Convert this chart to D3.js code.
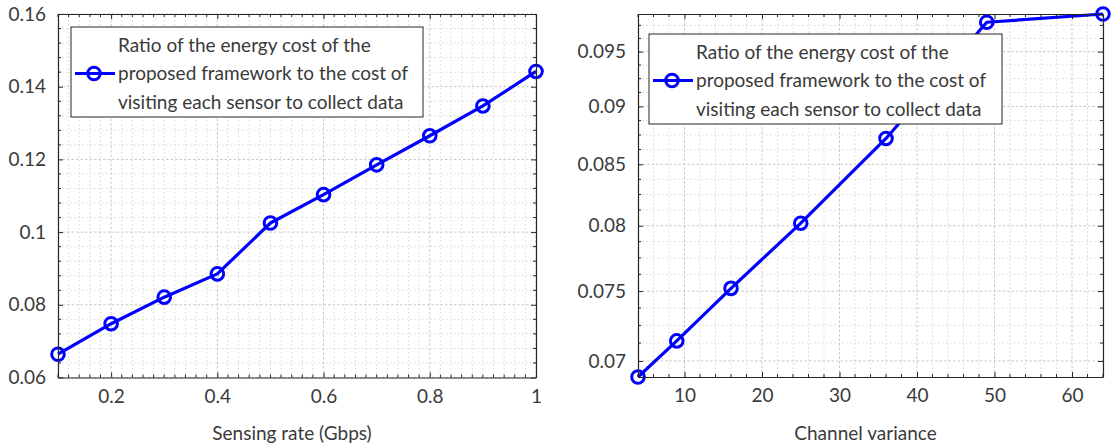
<!DOCTYPE html>
<html>
<head>
<meta charset="utf-8">
<script src="https://cdn.jsdelivr.net/npm/d3@7"></script>
<style>
  html, body { margin: 0; padding: 0; background: #fff; }
  svg { display: block; }
  text { font-family: "Lato", "Open Sans", sans-serif; fill: #3a3a3a; }
</style>
</head>
<body>
<svg id="fig" width="1113" height="447"></svg>
<script>
// Left panel: ratio vs. sensing rate
const rateGbps = [0.1, 0.2, 0.3, 0.4, 0.5, 0.6, 0.7, 0.8, 0.9, 1.0];
const ratioByRate = [0.0664, 0.0748, 0.0821, 0.0885, 0.1025, 0.1103, 0.1185, 0.1265, 0.1347, 0.1442];
const rateTicks = [0.2, 0.4, 0.6, 0.8, 1];
const ratioTicksLeft = [0.06, 0.08, 0.1, 0.12, 0.14, 0.16];

// Right panel: ratio vs. channel variance (log-scaled ratio axis)
const channelVariance = [4, 9, 16, 25, 36, 49, 64];
const ratioByVariance = [0.0689, 0.0714, 0.0752, 0.0802, 0.0872, 0.0978, 0.0986];
const varianceTicks = [10, 20, 30, 40, 50, 60];
const ratioTicksRight = [0.07, 0.075, 0.08, 0.085, 0.09, 0.095];

const legendLines = [
  "Ratio of the energy cost of the",
  "proposed framework to the cost of",
  "visiting each sensor to collect data"
];

const svg = d3.select("#fig");
const BLUE = "#0000ff";
const AXIS = "#262626";
const FONT = 19;

function panel(cfg) {
  const g = svg.append("g");
  const { x, y, xMinor, yMinor } = cfg;
  const [x0, x1] = x.range();
  const [y0, y1] = y.range(); // y0 bottom, y1 top

  // minor grid (dotted)
  g.append("g").selectAll("line.mx").data(xMinor).join("line")
    .attr("x1", d => x(d)).attr("x2", d => x(d)).attr("y1", y0).attr("y2", y1)
    .attr("stroke", "#d9d9d9").attr("stroke-width", 1).attr("stroke-dasharray", "1.5,2.5");
  g.append("g").selectAll("line.my").data(yMinor).join("line")
    .attr("x1", x0).attr("x2", x1).attr("y1", d => y(d)).attr("y2", d => y(d))
    .attr("stroke", "#d9d9d9").attr("stroke-width", 1).attr("stroke-dasharray", "1.5,2.5");
  // major grid
  g.append("g").selectAll("line").data(cfg.xTicks).join("line")
    .attr("x1", d => x(d)).attr("x2", d => x(d)).attr("y1", y0).attr("y2", y1)
    .attr("stroke", "#c8c8c8").attr("stroke-width", 1).attr("stroke-dasharray", "2.5,2");
  g.append("g").selectAll("line").data(cfg.yTicks).join("line")
    .attr("x1", x0).attr("x2", x1).attr("y1", d => y(d)).attr("y2", d => y(d))
    .attr("stroke", "#c8c8c8").attr("stroke-width", 1).attr("stroke-dasharray", "2.5,2");

  // data line and markers
  const pts = cfg.xs.map((v, i) => [v, cfg.ys[i]]);
  g.append("path").datum(pts)
    .attr("d", d3.line().x(d => x(d[0])).y(d => y(d[1])))
    .attr("fill", "none").attr("stroke", BLUE).attr("stroke-width", 3.2)
    .attr("stroke-linejoin", "round");
  g.append("g").selectAll("circle").data(pts).join("circle")
    .attr("cx", d => x(d[0])).attr("cy", d => y(d[1])).attr("r", 6.3)
    .attr("fill", "none").attr("stroke", BLUE).attr("stroke-width", 3);

  // axes on all four sides, ticks pointing inward
  const fmt = cfg.fmt;
  const bottom = d3.axisBottom(x).tickValues(cfg.xTicks).tickSizeInner(-5).tickSizeOuter(0)
    .tickPadding(12).tickFormat(fmt);
  const top = d3.axisTop(x).tickValues(cfg.xTicks).tickSizeInner(-5).tickSizeOuter(0).tickFormat("");
  const left = d3.axisLeft(y).tickValues(cfg.yTicks).tickSizeInner(-5).tickSizeOuter(0)
    .tickPadding(12).tickFormat(fmt);
  const right = d3.axisRight(y).tickValues(cfg.yTicks).tickSizeInner(-5).tickSizeOuter(0).tickFormat("");
  const style = sel => {
    sel.select(".domain").attr("stroke", AXIS).attr("stroke-width", 1.2);
    sel.selectAll(".tick line").attr("stroke", AXIS).attr("stroke-width", 1);
    sel.selectAll(".tick text").attr("fill", "#3a3a3a").style("font-size", FONT + "px")
      .style("font-family", "Lato, 'Open Sans', sans-serif");
  };
  g.append("g").attr("transform", `translate(0,${y0})`).call(bottom).call(style);
  g.append("g").attr("transform", `translate(0,${y1})`).call(top).call(style);
  g.append("g").attr("transform", `translate(${x0},0)`).call(left).call(style);
  g.append("g").attr("transform", `translate(${x1},0)`).call(right).call(style);

  // minor ticks
  const mt = g.append("g").attr("stroke", AXIS).attr("stroke-width", 1);
  xMinor.forEach(v => {
    mt.append("line").attr("x1", x(v)).attr("x2", x(v)).attr("y1", y0).attr("y2", y0 - 3);
    mt.append("line").attr("x1", x(v)).attr("x2", x(v)).attr("y1", y1).attr("y2", y1 + 3);
  });
  yMinor.forEach(v => {
    mt.append("line").attr("x1", x0).attr("x2", x0 + 3).attr("y1", y(v)).attr("y2", y(v));
    mt.append("line").attr("x1", x1).attr("x2", x1 - 3).attr("y1", y(v)).attr("y2", y(v));
  });

  // x-axis title
  g.append("text").attr("x", (x0 + x1) / 2 - 5).attr("y", 440)
    .attr("text-anchor", "middle").style("font-size", FONT + "px").text(cfg.xTitle);

  // legend
  const L = cfg.legend;
  const lg = g.append("g").attr("transform", `translate(${L.x},${L.y})`);
  lg.append("rect").attr("width", L.w).attr("height", L.h)
    .attr("fill", "#fff").attr("stroke", AXIS).attr("stroke-width", 1);
  const rowY = [18, 46.5, 75];
  lg.append("line").attr("x1", 4).attr("x2", 44).attr("y1", rowY[1]).attr("y2", rowY[1])
    .attr("stroke", BLUE).attr("stroke-width", 3.2);
  lg.append("circle").attr("cx", 23).attr("cy", rowY[1]).attr("r", 6.3)
    .attr("fill", "none").attr("stroke", BLUE).attr("stroke-width", 3);
  lg.selectAll("text").data(legendLines).join("text")
    .attr("x", 47).attr("y", (d, i) => rowY[i]).attr("dy", "0.35em")
    .style("font-size", FONT + "px").text(d => d);
}

function minorSteps(lo, hi, step) {
  const out = [];
  const n = Math.round((hi - lo) / step);
  for (let i = 0; i <= n; i++) out.push(+(lo + i * step).toFixed(6));
  return out;
}

// Left panel
const xL = d3.scaleLinear().domain([0.1, 1]).range([58, 536]);
const yL = d3.scaleLinear().domain([0.06, 0.16]).range([377.5, 14]);
panel({
  x: xL, y: yL, xs: rateGbps, ys: ratioByRate,
  xTicks: rateTicks, yTicks: ratioTicksLeft,
  xMinor: minorSteps(0.1, 1, 0.02).filter(v => !rateTicks.includes(v)),
  yMinor: minorSteps(0.06, 0.16, 0.004).filter(v => !ratioTicksLeft.some(t => Math.abs(t - v) < 1e-9)),
  fmt: d => String(+d.toFixed(3)),
  xTitle: "Sensing rate (Gbps)",
  legend: { x: 71, y: 27, w: 352, h: 90 }
});

// Right panel
const xR = d3.scaleLinear().domain(d3.extent(channelVariance)).range([638, 1103]);
const yR = d3.scaleLog().domain(d3.extent(ratioByVariance)).range([377, 14]);
panel({
  x: xR, y: yR, xs: channelVariance, ys: ratioByVariance,
  xTicks: varianceTicks, yTicks: ratioTicksRight,
  xMinor: minorSteps(4, 64, 2).filter(v => !varianceTicks.includes(v)),
  yMinor: minorSteps(0.07, 0.0975, 0.00125)
    .filter(v => !ratioTicksRight.some(t => Math.abs(t - v) < 1e-9) && v <= yR.domain()[1]),
  fmt: d => String(+d.toFixed(4)),
  xTitle: "Channel variance",
  legend: { x: 649, y: 34, w: 353, h: 90 }
});
</script>
</body>
</html>
